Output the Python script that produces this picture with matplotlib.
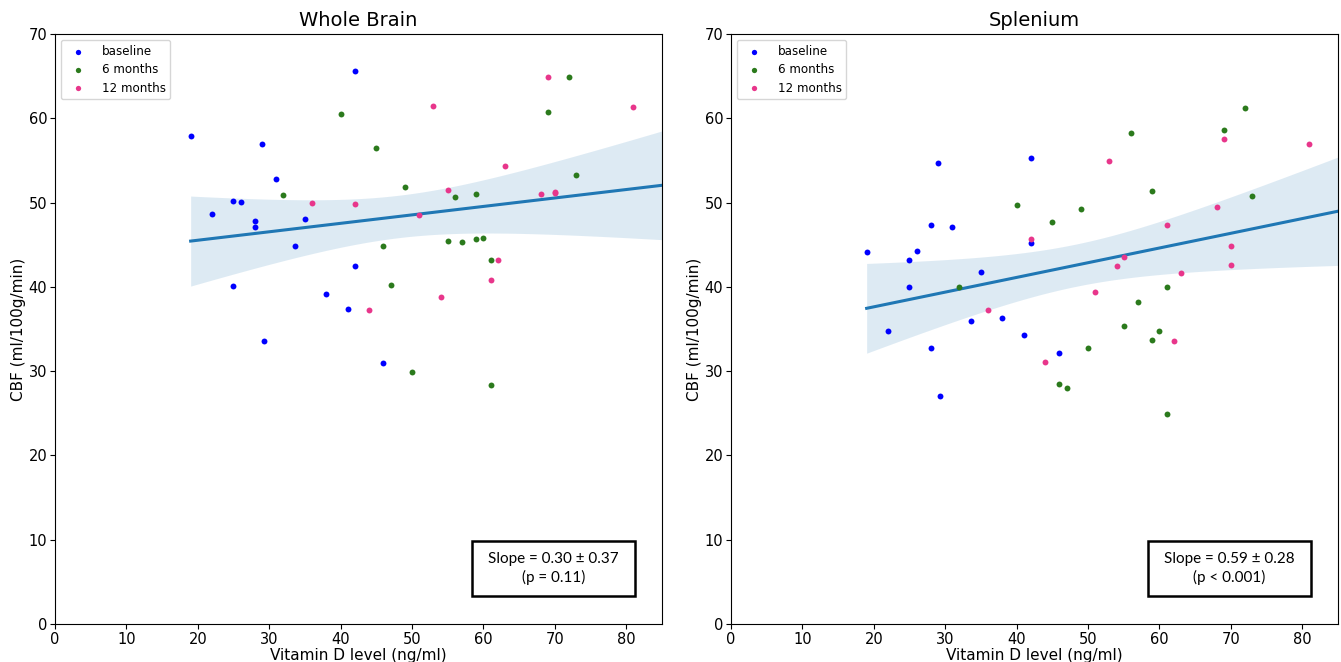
import numpy as np
import matplotlib
matplotlib.use("Agg")
import matplotlib.pyplot as plt
from matplotlib.patches import Rectangle

# vitamin D levels per visit
x_baseline = [19, 22, 25, 25, 26, 28, 28, 29, 29.3, 31, 33.6, 35, 38, 41, 42, 42, 46]
x_6m = [32, 40, 45, 46, 47, 49, 50, 55, 56, 57, 59, 59, 60, 61, 61, 69, 72, 73]
x_12m = [36, 42, 44, 51, 53, 54, 55, 61, 62, 63, 68, 69, 70, 70, 81]

# CBF, whole brain
wb_baseline = [57.9, 48.6, 50.15, 40.1, 50.1, 47.8, 47.1, 56.95, 33.6, 52.8, 44.85, 48.1, 39.1, 37.4, 65.6, 42.5, 31.0]
wb_6m = [50.9, 60.5, 56.5, 44.85, 40.2, 51.9, 29.9, 45.5, 50.7, 45.3, 51.0, 45.7, 45.8, 43.2, 28.4, 60.7, 64.85, 53.3]
wb_12m = [50.0, 49.8, 37.25, 48.5, 61.5, 38.75, 51.55, 40.8, 43.2, 54.3, 51.0, 64.85, 51.3, 51.1, 61.3]

# CBF, splenium
sp_baseline = [44.1, 34.8, 43.2, 39.95, 44.3, 47.3, 32.8, 54.7, 27.0, 47.05, 35.9, 41.8, 36.3, 34.25, 55.3, 45.2, 32.2]
sp_6m = [40.0, 49.7, 47.7, 28.5, 27.95, 49.2, 32.8, 35.4, 58.2, 38.25, 51.4, 33.7, 34.8, 40.0, 24.9, 58.65, 61.2, 50.8]
sp_12m = [37.3, 45.7, 31.1, 39.4, 54.9, 42.5, 43.5, 47.3, 33.6, 41.6, 49.5, 57.5, 44.9, 42.55, 56.95]

titles = ["Whole Brain", "Splenium"]
slope_texts = ["Slope = 0.30 \u00b1 0.37\n(p = 0.11)", "Slope = 0.59 \u00b1 0.28\n(p < 0.001)"]
labels = ["baseline", "6 months", "12 months"]
colors = ["#0000ff", "#2b7a1c", "#e8368b"]

T_CRIT = 2.01  # t(0.975, df~48)


def draw_panel(ax, ys, title, slope_text):
    xs = [x_baseline, x_6m, x_12m]
    for x, y, lab, c in zip(xs, ys, labels, colors):
        ax.scatter(x, y, s=18, color=c, label=lab, zorder=3, linewidths=0)

    # pooled linear fit with 95% band
    x_all = np.concatenate([np.array(v, dtype=float) for v in xs])
    y_all = np.concatenate([np.array(v, dtype=float) for v in ys])
    n = len(x_all)
    b, a = np.polyfit(x_all, y_all, 1)
    resid = y_all - (a + b * x_all)
    s = np.sqrt((resid ** 2).sum() / (n - 2))
    xm = x_all.mean()
    sxx = ((x_all - xm) ** 2).sum()
    grid = np.linspace(x_all.min(), 85, 100)
    fit = a + b * grid
    se = s * np.sqrt(1 / n + (grid - xm) ** 2 / sxx)
    ax.fill_between(grid, fit - T_CRIT * se, fit + T_CRIT * se, color="#1f77b4", alpha=0.15, linewidth=0, zorder=1)
    ax.plot(grid, fit, color="#1f77b4", lw=2.2, zorder=2)

    ax.set_xlim(0, 85)
    ax.set_ylim(0, 70)
    ax.set_xticks(range(0, 81, 10))
    ax.set_yticks(range(0, 71, 10))
    ax.tick_params(labelsize=10.5, pad=2)
    ax.set_title(title, fontsize=14)
    ax.set_xlabel("Vitamin D level (ng/ml)", fontsize=11, labelpad=1)
    ax.set_ylabel("CBF (ml/100g/min)", fontsize=11, labelpad=2)
    ax.legend(loc="upper left", fontsize=8.6, markerscale=0.9, handletextpad=1.0,
              borderaxespad=0.5, labelspacing=0.45)

    ax.add_patch(Rectangle((0.687, 0.047), 0.268, 0.093, transform=ax.transAxes,
                           fill=False, edgecolor="black", lw=1.8, zorder=5))
    ax.text(0.821, 0.0935, slope_text, transform=ax.transAxes, ha="center", va="center",
            fontsize=11, family=["Lato", "DejaVu Sans"], linespacing=1.35, zorder=6)


fig = plt.figure(figsize=(13.41, 6.62), dpi=100)
ax1 = fig.add_axes([0.041, 0.0574, 0.4526, 0.8912])
ax2 = fig.add_axes([0.5451, 0.0574, 0.4526, 0.8912])

draw_panel(ax1, [wb_baseline, wb_6m, wb_12m], titles[0], slope_texts[0])
draw_panel(ax2, [sp_baseline, sp_6m, sp_12m], titles[1], slope_texts[1])

fig.savefig("out.png", dpi=100)
